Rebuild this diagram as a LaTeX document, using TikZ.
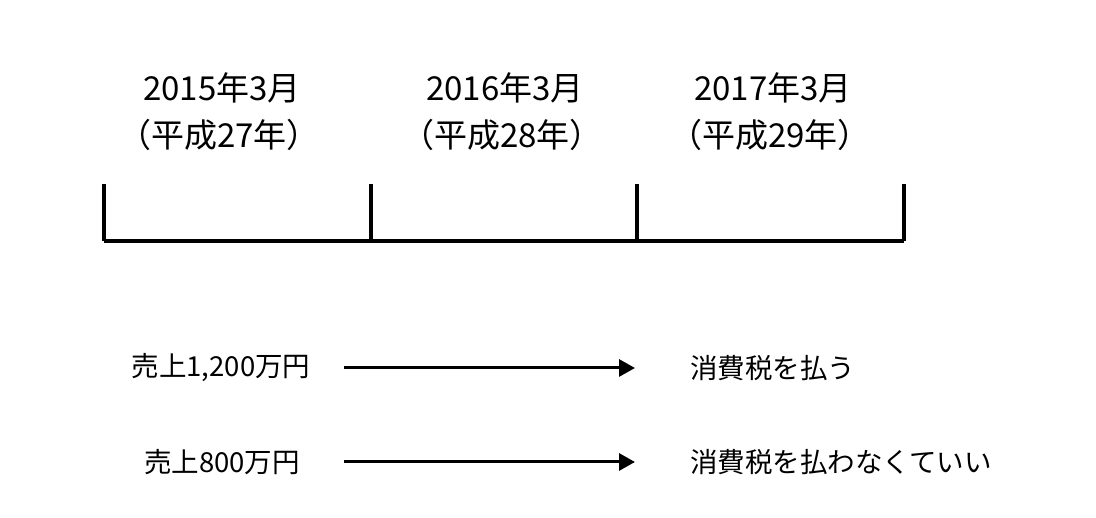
\documentclass[tikz,border=0pt]{standalone}
\usepackage{fontspec}
\setmainfont{Noto Sans CJK JP}
\usetikzlibrary{arrows.meta}
\begin{document}
\begin{tikzpicture}[x=1pt,y=1pt,
  head/.style={font=\fontsize{33}{38}\selectfont, inner sep=0pt, align=center},
  lbl/.style={font=\fontsize{27.5}{32}\selectfont, inner sep=0pt},
  tl/.style={line width=3.5pt},
  arr/.style={line width=3pt, -{Triangle[length=16pt,width=17pt]}}]
\useasboundingbox (0,0) rectangle (1096,518);
% headings
\node[head] (h1a) at (222,430) {2015年3月};
\node[head] (h1b) at (219,383) {（平成27年）};
\node[head] (h2a) at (505,430) {2016年3月};
\node[head] (h2b) at (502,383) {（平成28年）};
\node[head] (h3a) at (773,430) {2017年3月};
\node[head] (h3b) at (770,383) {（平成29年）};
% timeline
\coordinate (t1) at (104,334);
\coordinate (t2) at (371,334);
\coordinate (t3) at (637,334);
\coordinate (t4) at (904,334);
\coordinate (b1) at (104,277);
\coordinate (b2) at (371,277);
\coordinate (b3) at (637,277);
\coordinate (b4) at (904,277);
\draw[tl] (b1) -- (b4);
\draw[tl] (t1) -- (b1);
\draw[tl] (t2) -- (b2);
\draw[tl] (t3) -- (b3);
\draw[tl] (t4) -- (b4);
% rows
\node[lbl] (s1) at (221,150) {売上1,200万円};
\node[lbl] (s2) at (222,56) {売上800万円};
\node[lbl, anchor=west] (r1) at (690,150) {消費税を払う};
\node[lbl, anchor=west] (r2) at (690,56) {消費税を払わなくていい};
\coordinate (a1s) at (344,150);
\coordinate (a1e) at (635,150);
\coordinate (a2s) at (344,56);
\coordinate (a2e) at (635,56);
\draw[arr] (a1s) -- (a1e);
\draw[arr] (a2s) -- (a2e);
\end{tikzpicture}
\end{document}
